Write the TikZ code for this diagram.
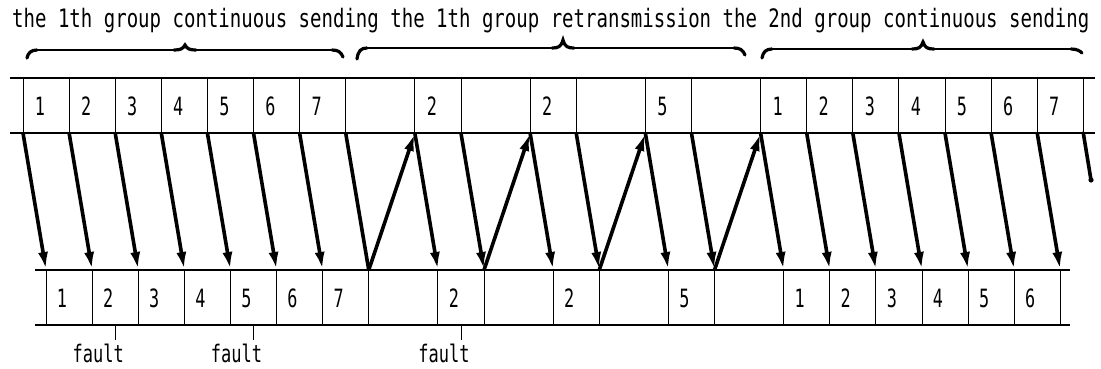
\documentclass[tikz,border=0pt]{standalone}
\usepackage{fontspec}
\newfontfamily\mono{DejaVu Sans Mono}
\usetikzlibrary{arrows.meta}
\newcommand\dg[1]{\scalebox{0.7}[1.05]{#1}}
\newcommand\mybrace[7]{% x1, xm, x2, yline, ytip, yleftend, yrightend
  \draw[thinbrace] (#1+9,#4) -- (#2-10,#4);
  \draw[thinbrace] (#2+10,#4) -- (#3-10,#4);
  \draw[thickbrace] (#1,#6) .. controls (#1+1,#4+3) and (#1+4,#4) .. (#1+10,#4);
  \draw[thickbrace] (#2-11,#4) .. controls (#2-5,#4) and (#2-2,#4-1) .. (#2,#5) .. controls (#2+2,#4-1) and (#2+5,#4) .. (#2+11,#4);
  \draw[thickbrace] (#3-11,#4) .. controls (#3-5,#4) and (#3-2,#4+2) .. (#3,#7);
}
\begin{document}
\begin{tikzpicture}[x=1pt,y=-1pt,
  rowline/.style={line width=1.1pt},
  divline/.style={line width=0.9pt},
  sendarrow/.style={line width=3.6pt,-{Latex[length=18pt,width=10pt]}},
  plainarrow/.style={line width=3.6pt},
  thinbrace/.style={line width=1.1pt},
  thickbrace/.style={line width=3.2pt,line cap=round},
  digit/.style={anchor=base,inner sep=0pt,font=\mono\fontsize{24}{28}\selectfont},
  faultlbl/.style={anchor=base,inner sep=0pt,font=\mono\fontsize{23}{28}\selectfont},
  titletext/.style={anchor=base west,inner sep=0pt,font=\mono\fontsize{23.5}{28}\selectfont}]
\useasboundingbox (0,0) rectangle (1101,369);
\def\U{46.1}

% title
\node[titletext] (title) at (12,28) {\scalebox{0.81}[1.08]{the 1th group continuous sending the 1th group retransmission the 2nd group continuous sending}};

% braces
\mybrace{27}{185}{343}{50}{45}{58}{57}
\mybrace{357}{563}{745}{48}{40}{59}{55}
\mybrace{762}{923}{1082}{49}{42}{58}{53}

% rows
\draw[rowline] (10,78) -- (1095,78);
\draw[rowline] (10,133) -- (1095,133);
\draw[rowline] (35,270) -- (1070,270);
\draw[rowline] (35,325) -- (1070,325);

% top dividers
\foreach \k [count=\i] in {0,1,2,3,4,5,6,7,8.5,9.5,11,12,13.5,14.5,16,17,18,19,20,21,22,23} {
  \coordinate (tt\i) at ({23+\k*\U},133);
  \coordinate (tu\i) at ({23+\k*\U},78);
  \draw[divline] (tu\i) -- (tt\i);
}
% bottom dividers
\foreach \k [count=\i] in {0.5,1.5,2.5,3.5,4.5,5.5,6.5,7.5,9,10,11.5,12.5,14,15,16.5,17.5,18.5,19.5,20.5,21.5,22.5} {
  \coordinate (bb\i) at ({23+\k*\U},270);
  \coordinate (bl\i) at ({23+\k*\U},325);
  \draw[divline] (bb\i) -- (bl\i);
}

% top labels
\foreach \k/\l [count=\i] in {0/1,1/2,2/3,3/4,4/5,5/6,6/7,8.5/2,11/2,13.5/5,16/1,17/2,18/3,19/4,20/5,21/6,22/7} {
  \node[digit] (tl\i) at ({23+\k*\U+17},115) {\dg{\l}};
}
% bottom labels
\foreach \k/\l [count=\i] in {0.5/1,1.5/2,2.5/3,3.5/4,4.5/5,5.5/6,6.5/7,9/2,11.5/2,14/5,16.5/1,17.5/2,18.5/3,19.5/4,20.5/5,21.5/6} {
  \node[digit] (bt\i) at ({23+\k*\U+16},307) {\dg{\l}};
}

% down arrows
\foreach \i in {1,...,7,9,10,...,21} {
  \draw[sendarrow] (tt\i) -- (bb\i);
}
\draw[plainarrow] (tt8) -- (bb8);
% up arrows (acknowledgements)
\draw[sendarrow] (bb8) -- (tt9);
\draw[sendarrow] (bb10) -- (tt11);
\draw[sendarrow] (bb12) -- (tt13);
\draw[sendarrow] (bb14) -- (tt15);
% truncated last arrow
\coordinate (trunc) at (1091,180);
\draw[plainarrow,line cap=round] (tt22) -- (trunc);
\fill (trunc) circle (2.6);

% faults
\foreach \x [count=\i] in {115.2,253.5,461} {
  \coordinate (fa\i) at (\x,325);
  \coordinate (fb\i) at (\x,340);
  \draw[divline] (fa\i) -- (fb\i);
  \node[faultlbl] (fl\i) at (\x-17,362) {\scalebox{0.74}[1.05]{fault}};
}
\end{tikzpicture}
\end{document}
